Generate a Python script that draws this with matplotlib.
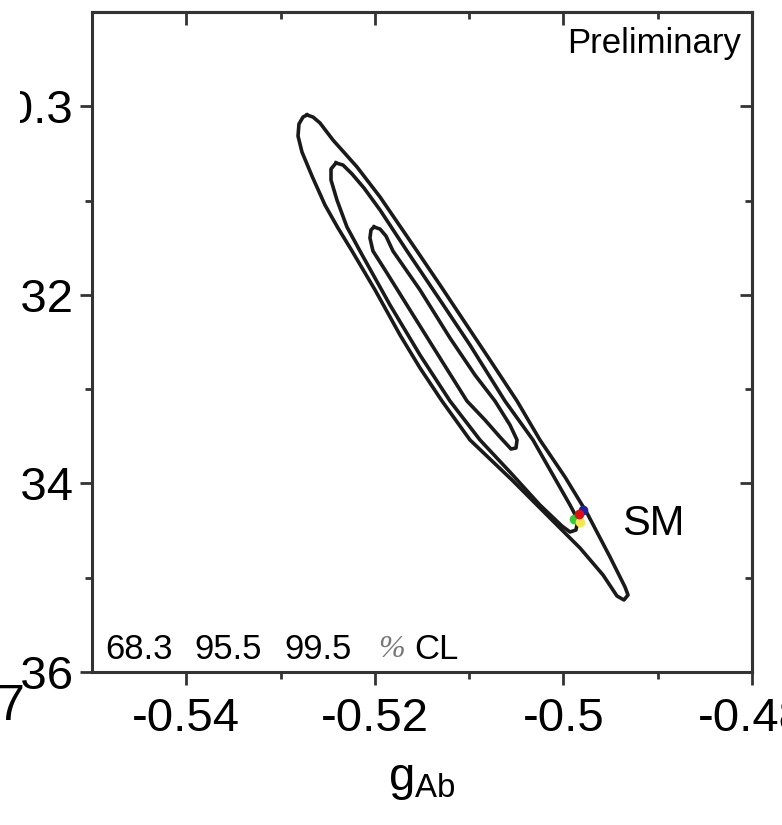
import matplotlib.pyplot as plt
from matplotlib.patches import Rectangle

plt.rcParams['font.family'] = ['Liberation Sans', 'DejaVu Sans']
plt.rcParams['mathtext.fontset'] = 'custom'
plt.rcParams['mathtext.rm'] = 'Liberation Sans'
plt.rcParams['mathtext.it'] = 'Liberation Sans'

# contours, (g_Ab, g_Vb)
cl68_gab = [-0.52009, -0.51945, -0.51882, -0.51808, -0.51521, -0.51203,
            -0.50938, -0.50726, -0.50567, -0.50492, -0.50503, -0.50556,
            -0.50673, -0.50832, -0.51023, -0.51309, -0.51627, -0.51892,
            -0.52020, -0.52052, -0.52041, -0.52009]
cl68_gvb = [-0.31280, -0.31302, -0.31376, -0.31535, -0.31948, -0.32458,
            -0.32850, -0.33126, -0.33380, -0.33539, -0.33624, -0.33635,
            -0.33508, -0.33327, -0.33126, -0.32670, -0.32161, -0.31736,
            -0.31535, -0.31397, -0.31312, -0.31280]

cl955_gab = [-0.52412, -0.52338, -0.52242, -0.52115, -0.51945, -0.51659,
             -0.51309, -0.50991, -0.50620, -0.50323, -0.50111, -0.49930,
             -0.49846, -0.49867, -0.49930, -0.50015, -0.50249, -0.50567,
             -0.50885, -0.51203, -0.51521, -0.51839, -0.52158, -0.52296,
             -0.52402, -0.52465, -0.52465, -0.52412]
cl955_gvb = [-0.30601, -0.30623, -0.30718, -0.30867, -0.31100, -0.31535,
             -0.32055, -0.32532, -0.33126, -0.33539, -0.33911, -0.34229,
             -0.34388, -0.34494, -0.34515, -0.34452, -0.34229, -0.33879,
             -0.33539, -0.33126, -0.32638, -0.32108, -0.31535, -0.31280,
             -0.30994, -0.30782, -0.30665, -0.30601]

cl995_gab = [-0.52720, -0.52656, -0.52582, -0.52444, -0.52189, -0.51945,
             -0.51553, -0.51309, -0.51097, -0.50779, -0.50492, -0.50249,
             -0.49983, -0.49750, -0.49506, -0.49347, -0.49315, -0.49358,
             -0.49432, -0.49580, -0.49824, -0.50143, -0.50546, -0.50991,
             -0.51288, -0.51521, -0.51733, -0.51998, -0.52242, -0.52391,
             -0.52529, -0.52667, -0.52773, -0.52815, -0.52805, -0.52762,
             -0.52720]
cl995_gvb = [-0.30092, -0.30114, -0.30177, -0.30358, -0.30644, -0.30962,
             -0.31535, -0.31895, -0.32214, -0.32691, -0.33126, -0.33539,
             -0.33932, -0.34314, -0.34780, -0.35098, -0.35183, -0.35236,
             -0.35194, -0.34971, -0.34685, -0.34367, -0.33963, -0.33539,
             -0.33126, -0.32776, -0.32426, -0.31948, -0.31535, -0.31291,
             -0.31047, -0.30739, -0.30485, -0.30315, -0.30188, -0.30114,
             -0.30092]

# SM prediction blob
sm_gab = [-0.49888, -0.49824, -0.49792, -0.49835]
sm_gvb = [-0.34377, -0.34409, -0.34282, -0.34324]
sm_colors = ['#33cc33', '#f2e94e', '#2020a0', '#e01010']

xticks = [-0.54, -0.52, -0.50, -0.48]
xlabels = ['-0.54', '-0.52', '-0.5', '-0.48']
xminor = [-0.53, -0.51, -0.49]
yticks = [-0.36, -0.34, -0.32, -0.30]
ylabels = ['-0.36', '-0.34', '-0.32', '-0.3']
yminor = [-0.35, -0.33, -0.31]


def main():
    fig = plt.figure(figsize=(7.82, 8.25), dpi=100)
    ax = fig.add_axes([92 / 782, 153 / 825, 660 / 782, 660 / 825])

    for gx, gy in [(cl68_gab, cl68_gvb), (cl955_gab, cl955_gvb),
                   (cl995_gab, cl995_gvb)]:
        ax.plot(gx, gy, color='#1a1a1a', lw=2.6, solid_joinstyle='round')

    for gx, gy, c in zip(sm_gab, sm_gvb, sm_colors):
        ax.plot(gx, gy, 'o', color=c, ms=7, mec='none')

    ax.set_xlim(-0.55, -0.48)
    ax.set_ylim(-0.36, -0.29)

    ax.set_xticks(xticks, xlabels)
    ax.set_xticks(xminor, minor=True)
    ax.set_yticks(yticks, ylabels)
    ax.set_yticks(yminor, minor=True)
    ax.tick_params(which='major', direction='out', length=9, width=2,
                   labelsize=34, color='#333333')
    ax.tick_params(which='minor', direction='out', length=5, width=2,
                   color='#333333')
    ax.tick_params(axis='x', which='major', pad=9)
    ax.tick_params(axis='y', which='major', pad=4)

    # top / right ticks point inwards
    top = ax.secondary_xaxis('top')
    top.set_xticks(xticks)
    top.set_xticks(xminor, minor=True)
    top.tick_params(which='both', direction='in', labeltop=False,
                    width=2, color='#333333')
    top.tick_params(which='major', length=9)
    top.tick_params(which='minor', length=5)
    right = ax.secondary_yaxis('right')
    right.set_yticks(yticks)
    right.set_yticks(yminor, minor=True)
    right.tick_params(which='both', direction='in', labelright=False,
                      width=2, color='#333333')
    right.tick_params(which='major', length=9)
    right.tick_params(which='minor', length=5)
    for sec in (top, right):
        for s in sec.spines.values():
            s.set_linewidth(2.2)
            s.set_color('#333333')

    for s in ax.spines.values():
        s.set_linewidth(2.2)
        s.set_color('#333333')

    ax.set_xlabel(r'$\mathregular{g_{Ab}}$', fontsize=34, labelpad=12)

    ax.text(0.983, 0.953, 'Preliminary', transform=ax.transAxes,
            ha='right', va='center', fontsize=25)
    ax.text(0.803, 0.224, 'SM', transform=ax.transAxes,
            ha='left', va='center', fontsize=30)

    ax.text(0.020, 0.034, '68.3', transform=ax.transAxes,
            ha='left', va='center', fontsize=25)
    ax.text(0.155, 0.034, '95.5', transform=ax.transAxes,
            ha='left', va='center', fontsize=25)
    ax.text(0.291, 0.034, '99.5', transform=ax.transAxes,
            ha='left', va='center', fontsize=25)
    ax.text(0.433, 0.034, '%', transform=ax.transAxes, ha='left',
            va='center', fontsize=23, color='#777777', style='italic',
            family='Liberation Serif')
    ax.text(0.488, 0.034, 'CL', transform=ax.transAxes,
            ha='left', va='center', fontsize=25)

    # neighbouring panel overlaps the left edge of this one
    fig.add_artist(Rectangle((0, 0), 20 / 782, 1, transform=fig.transFigure,
                             facecolor='white', edgecolor='none', zorder=5))
    fig.text(24 / 782, 118 / 825, '7', ha='right', va='center', fontsize=36,
             zorder=6)

    fig.savefig('out.png', dpi=100)


if __name__ == "__main__":
    main()
